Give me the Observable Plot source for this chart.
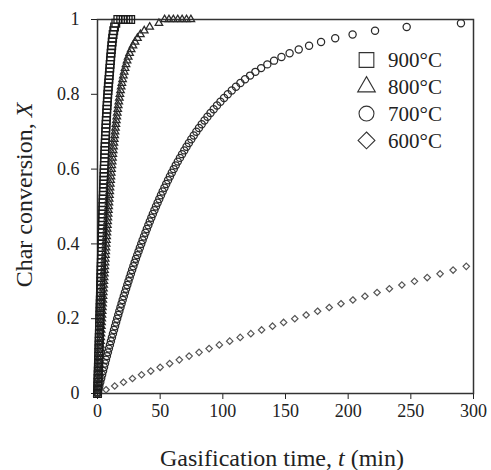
<!DOCTYPE html>
<html>
<head>
<meta charset="utf-8">
<script src="https://cdn.jsdelivr.net/npm/d3@7"></script>
<script src="https://cdn.jsdelivr.net/npm/@observablehq/plot@0.6"></script>
<style>
  html, body { margin: 0; padding: 0; background: #fff; }
</style>
</head>
<body>
<div id="chart"></div>
<script>
// Conversion levels at which the data were logged
const conversion = [
  0, 0.01, 0.02, 0.03, 0.04, 0.05, 0.06, 0.07, 0.08, 0.09,
  0.10, 0.11, 0.12, 0.13, 0.14, 0.15, 0.16, 0.17, 0.18, 0.19,
  0.20, 0.21, 0.22, 0.23, 0.24, 0.25, 0.26, 0.27, 0.28, 0.29,
  0.30, 0.31, 0.32, 0.33, 0.34, 0.35, 0.36, 0.37, 0.38, 0.39,
  0.40, 0.41, 0.42, 0.43, 0.44, 0.45, 0.46, 0.47, 0.48, 0.49,
  0.50, 0.51, 0.52, 0.53, 0.54, 0.55, 0.56, 0.57, 0.58, 0.59,
  0.60, 0.61, 0.62, 0.63, 0.64, 0.65, 0.66, 0.67, 0.68, 0.69,
  0.70, 0.71, 0.72, 0.73, 0.74, 0.75, 0.76, 0.77, 0.78, 0.79,
  0.80, 0.81, 0.82, 0.83, 0.84, 0.85, 0.86, 0.87, 0.88, 0.89,
  0.90, 0.91, 0.92, 0.93, 0.94, 0.95, 0.96, 0.97, 0.98, 0.99,
  1.00
];

// Gasification time (min) at each conversion level
const t900 = [
  0, 0.10, 0.20, 0.29, 0.39, 0.48, 0.58, 0.67, 0.76, 0.85,
  0.94, 1.03, 1.12, 1.20, 1.29, 1.38, 1.46, 1.55, 1.63, 1.72,
  1.80, 1.88, 1.97, 2.05, 2.13, 2.21, 2.30, 2.38, 2.46, 2.54,
  2.62, 2.70, 2.79, 2.87, 2.95, 3.03, 3.12, 3.20, 3.28, 3.37,
  3.45, 3.54, 3.62, 3.71, 3.80, 3.88, 3.97, 4.06, 4.15, 4.24,
  4.33, 4.43, 4.52, 4.62, 4.71, 4.81, 4.91, 5.01, 5.12, 5.22,
  5.33, 5.44, 5.55, 5.66, 5.78, 5.90, 6.02, 6.15, 6.27, 6.41,
  6.54, 6.68, 6.83, 6.98, 7.14, 7.30, 7.46, 7.64, 7.82, 8.01,
  8.21, 8.42, 8.64, 8.88, 9.13, 9.39, 9.62, 9.85, 10.08, 10.32,
  10.56, 10.82, 11.09, 11.38, 11.70, 12.05, 12.45, 12.95, 13.6, 14.6,
  16.2
];
const t900End = [18.5, 20.5, 22.5, 24.5, 26.5]; // X = 1

const t800 = [
  0, 0.17, 0.34, 0.51, 0.69, 0.86, 1.03, 1.19, 1.36, 1.53,
  1.70, 1.87, 2.04, 2.20, 2.37, 2.54, 2.71, 2.88, 3.04, 3.21,
  3.38, 3.55, 3.72, 3.89, 4.06, 4.23, 4.40, 4.57, 4.75, 4.92,
  5.10, 5.27, 5.45, 5.63, 5.80, 5.98, 6.16, 6.35, 6.53, 6.72,
  6.90, 7.09, 7.28, 7.48, 7.67, 7.87, 8.07, 8.27, 8.47, 8.68,
  8.89, 9.10, 9.31, 9.53, 9.76, 9.98, 10.21, 10.45, 10.68, 10.93,
  11.17, 11.43, 11.69, 11.95, 12.22, 12.50, 12.78, 13.07, 13.37, 13.68,
  14.00, 14.33, 14.67, 15.02, 15.38, 15.75, 16.14, 16.55, 16.98, 17.42,
  17.88, 18.37, 18.89, 19.43, 20.01, 20.62, 21.28, 21.99, 22.75, 23.58,
  24.50, 25.62, 26.87, 28.29, 29.93, 31.87, 34.24, 37.30, 41.62, 48.99,
  53.5
];
const t800End = [57, 60.5, 64, 67.5, 71, 74.5]; // X = 1

const t700 = [
  0, 0.73, 1.46, 2.20, 2.94, 3.69, 4.44, 5.20, 5.97, 6.74,
  7.52, 8.31, 9.10, 9.90, 10.70, 11.51, 12.33, 13.16, 14.00, 14.84,
  15.69, 16.55, 17.42, 18.30, 19.19, 20.08, 20.99, 21.90, 22.83, 23.77,
  24.72, 25.68, 26.65, 27.63, 28.63, 29.64, 30.66, 31.70, 32.75, 33.81,
  34.89, 35.99, 37.11, 38.24, 39.38, 40.55, 41.74, 42.94, 44.17, 45.41,
  46.68, 47.97, 49.29, 50.63, 52.00, 53.40, 54.82, 56.28, 57.77, 59.28,
  60.84, 62.44, 64.07, 65.75, 67.47, 69.24, 71.04, 72.91, 74.83, 76.81,
  78.85, 80.96, 83.14, 85.39, 87.73, 90.18, 92.71, 95.34, 98.09, 100.96,
  103.97, 107.13, 110.48, 114.01, 117.74, 121.74, 125.99, 130.55, 135.50, 140.87,
  146.77, 153.27, 160.56, 168.81, 178.37, 189.66, 203.53, 221.44, 246.69, 289.99
];

const t600 = [
  0, 6.81, 13.72, 20.75, 27.90, 35.15, 42.52, 49.99, 57.58, 65.29,
  73.10, 81.03, 89.06, 97.21, 105.48, 113.85, 122.34, 130.93, 139.64, 148.47,
  157.40, 166.45, 175.60, 184.87, 194.26, 203.75, 213.36, 223.07, 232.90, 242.85,
  252.90, 263.07, 273.34, 283.73, 294.24
];

const legendLabels = ["900°C", "800°C", "700°C", "600°C"];
const xTicks = [0, 50, 100, 150, 200, 250, 300];
const yTicks = [0, 0.2, 0.4, 0.6, 0.8, 1];

const rows = (ts) => ts.map((t, i) => ({t, X: conversion[i]}));
const plateau = (ts) => ts.map((t) => ({t, X: 1}));
const d900 = [...rows(t900), ...plateau(t900End)];
const d800 = [...rows(t800), ...plateau(t800End)];
const d700 = rows(t700);
const d600 = rows(t600);

const font = "'Liberation Serif', 'Times New Roman', serif";

const svg = Plot.plot({
  width: 491,
  height: 470,
  marginLeft: 97,
  marginRight: 18,
  marginTop: 19,
  marginBottom: 77,
  style: {fontFamily: font, fontSize: "18px", color: "#222", background: "#fff", overflow: "visible"},
  x: {domain: [0, 300], ticks: xTicks, tickFormat: (d) => String(d), label: null, tickSize: 6, tickPadding: 5},
  y: {domain: [0, 1], ticks: yTicks, tickFormat: (d) => String(d), label: null, tickSize: 6, tickPadding: 12},
  marks: [
    Plot.frame({stroke: "#333", strokeWidth: 1.5}),
    Plot.dot(d600, {x: "t", y: "X", symbol: d3.symbolDiamond2, r: 2.9, fill: "none", stroke: "#555", strokeWidth: 1.2}),
    Plot.dot(d700, {x: "t", y: "X", symbol: d3.symbolCircle, r: 3.6, fill: "none", stroke: "#2a2a2a", strokeWidth: 1.25}),
    Plot.dot(d800, {x: "t", y: "X", symbol: d3.symbolTriangle, r: 2.8, fill: "none", stroke: "#2a2a2a", strokeWidth: 1.25}),
    Plot.dot(d900, {x: "t", y: "X", symbol: d3.symbolSquare, r: 4.3, fill: "none", stroke: "#1a1a1a", strokeWidth: 1.3})
  ]
});

const s = d3.select(svg);

// Axis titles (with italic variable symbols)
const xt = s.append("text")
  .attr("x", 282).attr("y", 466)
  .attr("text-anchor", "middle")
  .attr("font-family", font).attr("font-size", 24).attr("fill", "#222");
xt.append("tspan").text("Gasification time, ");
xt.append("tspan").attr("font-style", "italic").text("t");
xt.append("tspan").text(" (min)");

const yt = s.append("text")
  .attr("transform", "translate(32,195) rotate(-90)")
  .attr("text-anchor", "middle")
  .attr("font-family", font).attr("font-size", 24).attr("fill", "#222");
yt.append("tspan").text("Char conversion, ");
yt.append("tspan").attr("font-style", "italic").text("X");

// Legend
const legendSymbols = [
  {sym: d3.symbolSquare, size: 215},
  {sym: d3.symbolTriangle, size: 135},
  {sym: d3.symbolCircle, size: 175},
  {sym: d3.symbolDiamond2, size: 180}
];
const lg = s.append("g").attr("transform", "translate(366.5,60)");
legendLabels.forEach((label, i) => {
  const row = lg.append("g").attr("transform", `translate(0,${i * 26.8})`);
  row.append("path")
    .attr("d", d3.symbol(legendSymbols[i].sym, legendSymbols[i].size)())
    .attr("fill", "none").attr("stroke", "#333").attr("stroke-width", 1.1);
  row.append("text")
    .attr("x", 21.5).attr("dy", "0.35em")
    .attr("text-anchor", "start")
    .attr("font-family", font).attr("font-size", 21).attr("fill", "#222")
    .text(label);
});

document.getElementById("chart").appendChild(svg);
</script>
</body>
</html>
